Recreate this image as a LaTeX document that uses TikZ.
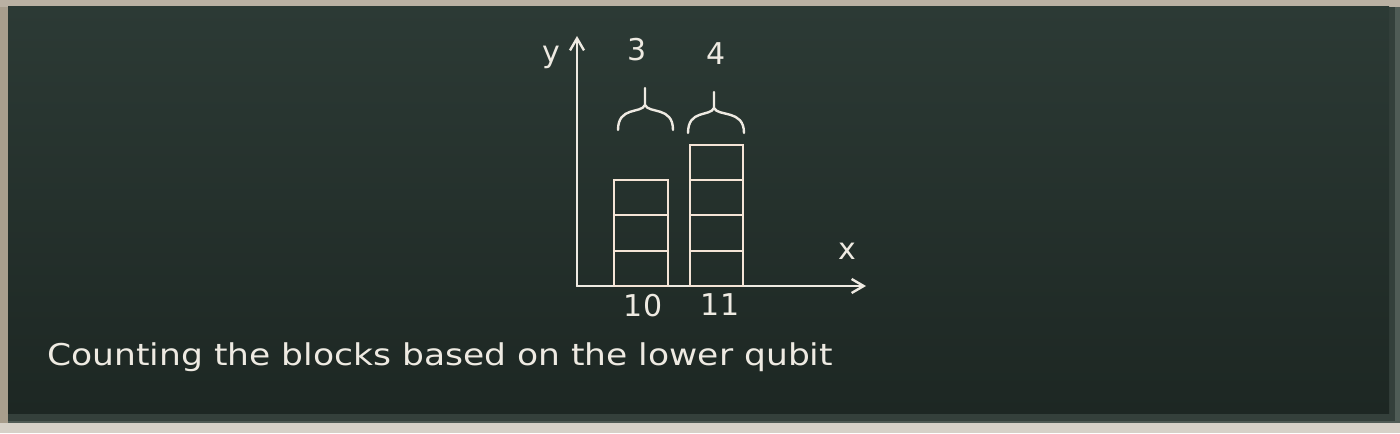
\documentclass[tikz,border=0pt]{standalone}
\usepackage{fontspec}
\setmainfont{DejaVu Sans}
\usepackage{graphicx}
\usepackage{tikz}
\usetikzlibrary{arrows.meta, positioning}
\definecolor{frameside}{RGB}{168,158,141}
\definecolor{frametop}{RGB}{186,177,163}
\definecolor{framebot}{RGB}{214,209,200}
\definecolor{ledge}{RGB}{52,64,59}
\definecolor{bevel}{RGB}{80,92,86}
\definecolor{boardtop}{RGB}{44,58,53}
\definecolor{boardbot}{RGB}{29,39,35}
\definecolor{chalkwhite}{RGB}{238,234,226}
\definecolor{chalkpeach}{RGB}{244,228,214}

\begin{document}
\begin{tikzpicture}[x=0.5pt, y=-0.5pt, >={Straight Barb[length=6pt,width=7pt]},
  chalk/.style={draw=chalkwhite, line width=1.2pt, line cap=round},
  bar/.style={draw=chalkpeach, line width=1.2pt},
  lbl/.style={text=chalkwhite, inner sep=0pt, font=\fontsize{15}{18}\selectfont}]
  \useasboundingbox (0,0) rectangle (1400,433);
  % board and frame
  \fill[frameside] (0,0) rectangle (1400,433);
  \fill[frametop] (0,0) rectangle (1400,7);
  \fill[bevel] (8,7) rectangle (1400,423);
  \fill[ledge] (8,7) rectangle (1395,421);
  \shade[top color=boardtop, bottom color=boardbot] (8,7) rectangle (1389,413);
  \fill[framebot] (0,423) rectangle (1400,433);
  % axes
  \coordinate (origin) at (577,286);
  \coordinate (ytip) at (577,36);
  \coordinate (xtip) at (866,286);
  \draw[chalk,->] (origin) -- (ytip);
  \draw[chalk,->] (origin) -- (xtip);
  \node[lbl] (ylab) at (551,57) {y};
  \node[lbl] (xlab) at (847,251) {x};
  % blocks for 10 and 11
  \draw[bar] (614,180) rectangle (668,286);
  \foreach \y in {215,251} \draw[bar] (614,\y) -- (668,\y);
  \draw[bar] (690,145) rectangle (743,286);
  \foreach \y in {180,215,251} \draw[bar] (690,\y) -- (743,\y);
  \node[lbl] (lten) at (643,306) {10};
  \node[lbl] (leleven) at (720,305) {11};
  % braces and counts
  \foreach \l/\m/\r/\b/\t in {618/645/673/130/88, 688/714/744/133/92}
  {
    \draw[chalk] (\l,\b) .. controls (\l,\b-24) and (\m-4,\b-16) .. (\m,\b-25) -- (\m,\t);
    \draw[chalk] (\r,\b) .. controls (\r,\b-24) and (\m+4,\b-16) .. (\m,\b-25);
  }
  \node[lbl] (three) at (637,50) {3};
  \node[lbl] (four) at (716,54) {4};
  % caption
  \node[lbl, anchor=base west] (caption) at (47,365) {\scalebox{1.15}[1]{Counting the blocks based on the lower qubit}};
\end{tikzpicture}
\end{document}
